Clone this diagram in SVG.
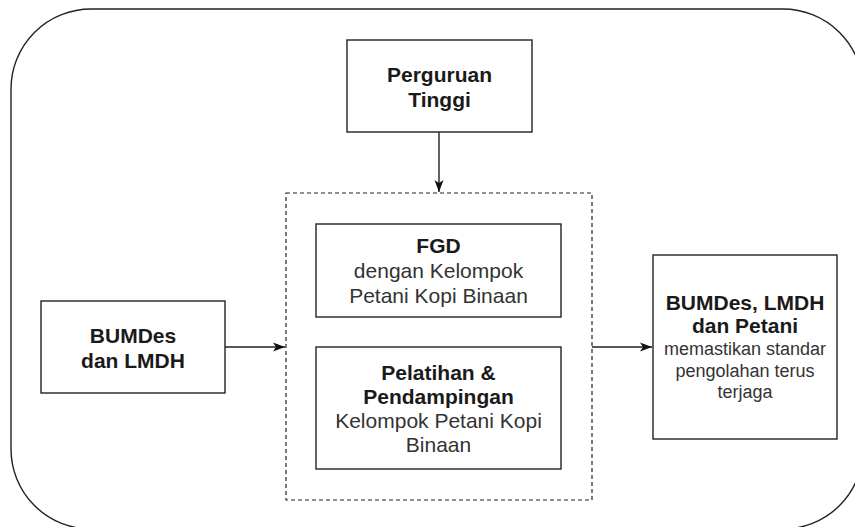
<svg xmlns="http://www.w3.org/2000/svg" width="855" height="527" viewBox="0 0 855 527">
<defs>
<style>
.box{fill:#fff;stroke:#222;stroke-width:1.4}
.dash{fill:none;stroke:#222;stroke-width:1.2;stroke-dasharray:4 3}
.edge{fill:none;stroke:#222;stroke-width:1.4}
.b{font-family:"Liberation Sans",Arial,sans-serif;font-weight:bold;fill:#1a1a1a;text-anchor:middle}
.n{font-family:"Liberation Sans",Arial,sans-serif;fill:#333;text-anchor:middle}
</style>
<marker id="arr" markerWidth="12" markerHeight="12" viewBox="0 0 12 12" refX="12" refY="6" orient="auto" markerUnits="userSpaceOnUse">
<path d="M0,1.5 L12,6 L0,10.5 L3,6 Z" fill="#111"/>
</marker>
</defs>
<rect x="0" y="0" width="855" height="527" fill="#fff"/>
<g id="frame"><rect x="11" y="9" width="852" height="520" rx="80" ry="80" fill="none" stroke="#222" stroke-width="1.4"/></g>
<g id="group-box"><rect class="dash" x="286" y="193" width="306" height="307"/></g>
<g id="perguruan">
<rect class="box" x="347" y="40" width="185" height="92"/>
<text class="b" font-size="21" x="439.5" y="82">Perguruan</text>
<text class="b" font-size="21" x="439.5" y="107">Tinggi</text>
</g>
<g id="bumdes">
<rect class="box" x="41" y="301" width="184" height="92"/>
<text class="b" font-size="21" x="133" y="343">BUMDes</text>
<text class="b" font-size="21" x="133" y="368">dan LMDH</text>
</g>
<g id="fgd">
<rect class="box" x="316" y="224" width="245" height="93"/>
<text class="b" font-size="21" x="438.5" y="253">FGD</text>
<text class="n" font-size="21" x="438.5" y="278">dengan Kelompok</text>
<text class="n" font-size="21" x="438.5" y="303">Petani Kopi Binaan</text>
</g>
<g id="pelatihan">
<rect class="box" x="316" y="347" width="245" height="122"/>
<text class="b" font-size="21" x="438.5" y="380">Pelatihan &amp;</text>
<text class="b" font-size="21" x="438.5" y="404">Pendampingan</text>
<text class="n" font-size="21" x="438.5" y="428">Kelompok Petani Kopi</text>
<text class="n" font-size="21" x="438.5" y="452">Binaan</text>
</g>
<g id="hasil">
<rect class="box" x="653" y="255" width="184" height="184"/>
<text class="b" font-size="21" x="745" y="310">BUMDes, LMDH</text>
<text class="b" font-size="21" x="745" y="333">dan Petani</text>
<text class="n" font-size="18" x="745" y="355">memastikan standar</text>
<text class="n" font-size="18" x="745" y="377">pengolahan terus</text>
<text class="n" font-size="18" x="745" y="398">terjaga</text>
</g>
<g id="connectors">
<line class="edge" x1="439" y1="132" x2="439" y2="192" marker-end="url(#arr)"/>
<line class="edge" x1="225" y1="347" x2="285" y2="347" marker-end="url(#arr)"/>
<line class="edge" x1="592" y1="347" x2="652" y2="347" marker-end="url(#arr)"/>
</g>
</svg>
